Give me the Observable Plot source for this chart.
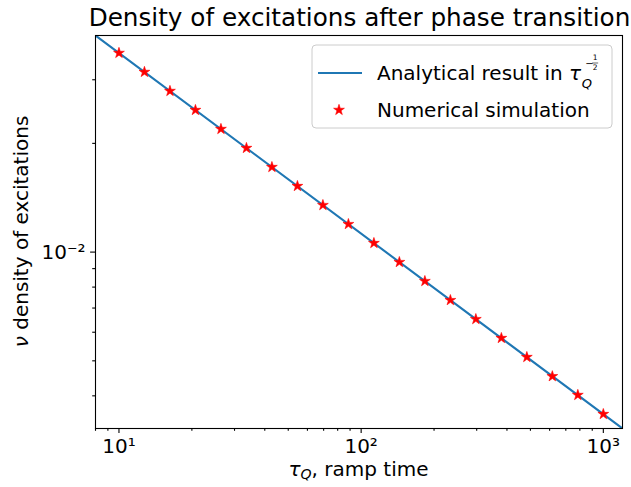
<!DOCTYPE html>
<html><head><meta charset="utf-8">
<script src="https://cdn.jsdelivr.net/npm/d3@7"></script>
<script src="https://cdn.jsdelivr.net/npm/@observablehq/plot@0.6"></script>
<style>
body{margin:0;background:#fff;}
#wrap{position:relative;width:631px;height:487px;}
</style></head><body><div id="wrap"></div>
<script>
// Numerical simulation points (ramp time τQ, density ν)
const tauQ = [10, 12.74, 16.24, 20.69, 26.37, 33.60, 42.81, 54.56, 69.52, 88.59,
              112.9, 143.8, 183.3, 233.6, 297.6, 379.3, 483.3, 615.8, 784.8, 1000];
const nuSim = [0.03558, 0.03152, 0.02792, 0.02473, 0.02191, 0.01941, 0.01719, 0.01523, 0.01349, 0.01195,
               0.01059, 0.00938, 0.00831, 0.00736, 0.00652, 0.00578, 0.00512, 0.00453, 0.00402, 0.00356];
// Analytical line endpoints (τQ^-1/2)
const lineTau = [8, 1200];
const lineNu = [0.03978, 0.003248];
// Ticks
const xMajor = [10, 100, 1000];
const xMajorLabels = ["10¹", "10²", "10³"];
const xMinor = [8, 9, 20, 30, 40, 50, 60, 70, 80, 90, 200, 300, 400, 500, 600, 700, 800, 900];
const yMajor = [0.01];
const yMajorLabels = ["10⁻²"];
const yMinor = [0.004, 0.005, 0.006, 0.007, 0.008, 0.009, 0.02, 0.03];
const xDomain = [8, 1200];
const yDomain = [0.003248, 0.03978];

const simData = tauQ.map((t, i) => ({tau: t, nu: nuSim[i]}));
const lineData = lineTau.map((t, i) => ({tau: t, nu: lineNu[i]}));

const W = 631, H = 487, mL = 95, mR = 9, mT = 35, mB = 59;
const FONT = '"DejaVu Sans", sans-serif';
const FS = 20;
const blue = "#1f77b4";
const starR = 3.4;

const plot = Plot.plot({
  width: W, height: H, marginLeft: mL, marginRight: mR, marginTop: mT, marginBottom: mB,
  style: {fontFamily: FONT, fontSize: FS + "px", color: "black", background: "white", overflow: "visible"},
  x: {type: "log", domain: xDomain},
  y: {type: "log", domain: yDomain},
  marks: [
    Plot.line(lineData, {x: "tau", y: "nu", stroke: blue, strokeWidth: 2.1, clip: true}),
    Plot.dot(simData, {x: "tau", y: "nu", symbol: "star", r: starR, fill: "red", stroke: "red", strokeWidth: 0.6}),
    Plot.axisX(xMinor, {tickSize: 2.8, tickFormat: () => "", strokeWidth: 1.1, label: null}),
    Plot.axisX(xMajor, {tickSize: 4.9, tickPadding: 5.5, strokeWidth: 1.1, label: null, fontSize: FS,
      tickFormat: d => xMajorLabels[xMajor.indexOf(d)]}),
    Plot.axisY(yMinor, {tickSize: 2.8, tickFormat: () => "", strokeWidth: 1.1, label: null}),
    Plot.axisY(yMajor, {tickSize: 4.9, tickPadding: 5, strokeWidth: 1.1, label: null, fontSize: FS,
      tickFormat: d => yMajorLabels[yMajor.indexOf(d)]}),
    Plot.frame({stroke: "black", strokeWidth: 1.1})
  ]
});
document.getElementById("wrap").appendChild(plot);

const svg = d3.select(plot);
const fx0 = mL, fx1 = W - mR, fy0 = mT, fy1 = H - mB;
const cx = (fx0 + fx1) / 2, cy = (fy0 + fy1) / 2;

function txt(parent, x, y, size, anchor) {
  return parent.append("text").attr("x", x).attr("y", y)
    .style("font-family", FONT).style("font-size", size + "px").style("text-anchor", anchor || "start")
    .style("fill", "black");
}

// Title
txt(svg, cx + 1, 25.5, 24.7, "middle").text("Density of excitations after phase transition");

// X label
const xl = txt(svg, cx, fy1 + 48, FS, "middle");
xl.append("tspan").style("font-style", "italic").text("τ");
xl.append("tspan").style("font-style", "italic").style("font-size", "14px").attr("dy", 3).text("Q");
xl.append("tspan").attr("dy", -3).text(", ramp time");

// Y label
const yl = txt(svg, 0, 0, FS, "middle").attr("transform", `translate(${fx0 - 67},${cy}) rotate(-90)`);
yl.append("tspan").style("font-style", "italic").text("ν");
yl.append("tspan").text(" density of excitations");

// Legend
const lg = svg.append("g");
const bx1 = fx1 - 10, by0 = fy0 + 10, bw = 300, bh = 83;
lg.append("rect").attr("x", bx1 - bw).attr("y", by0).attr("width", bw).attr("height", bh)
  .attr("rx", 4).attr("fill", "white").attr("fill-opacity", 0.8).attr("stroke", "#cccccc").attr("stroke-width", 1);
const row1 = by0 + 28, row2 = by0 + 65;
const lx0 = bx1 - bw + 6;
lg.append("line").attr("x1", lx0).attr("x2", lx0 + 44).attr("y1", row1).attr("y2", row1)
  .attr("stroke", blue).attr("stroke-width", 2.1);
lg.append("path").attr("d", d3.symbol(d3.symbolStar, Math.PI * starR * starR)())
  .attr("transform", `translate(${lx0 + 21},${row2})`).attr("fill", "red").attr("stroke", "red").attr("stroke-width", 0.6);
const tx = lx0 + 59;
const b1 = row1 + 7;
const t1 = txt(lg, tx, b1, FS);
t1.append("tspan").text("Analytical result in ");
t1.append("tspan").style("font-style", "italic").text("τ");
const ex = tx + t1.node().getComputedTextLength();
txt(lg, ex + 0.5, b1 + 8, 13).style("font-style", "italic").text("Q");
txt(lg, ex + 4, b1 - 13, 10).text("−");
txt(lg, ex + 11.5, b1 - 20.5, 7.5).text("1");
txt(lg, ex + 11.5, b1 - 10, 7.5).text("2");
lg.append("line").attr("x1", ex + 11).attr("x2", ex + 17).attr("y1", b1 - 17).attr("y2", b1 - 17)
  .attr("stroke", "black").attr("stroke-width", 0.6);
txt(lg, tx, row2 + 7, FS).text("Numerical simulation");
</script></body></html>
